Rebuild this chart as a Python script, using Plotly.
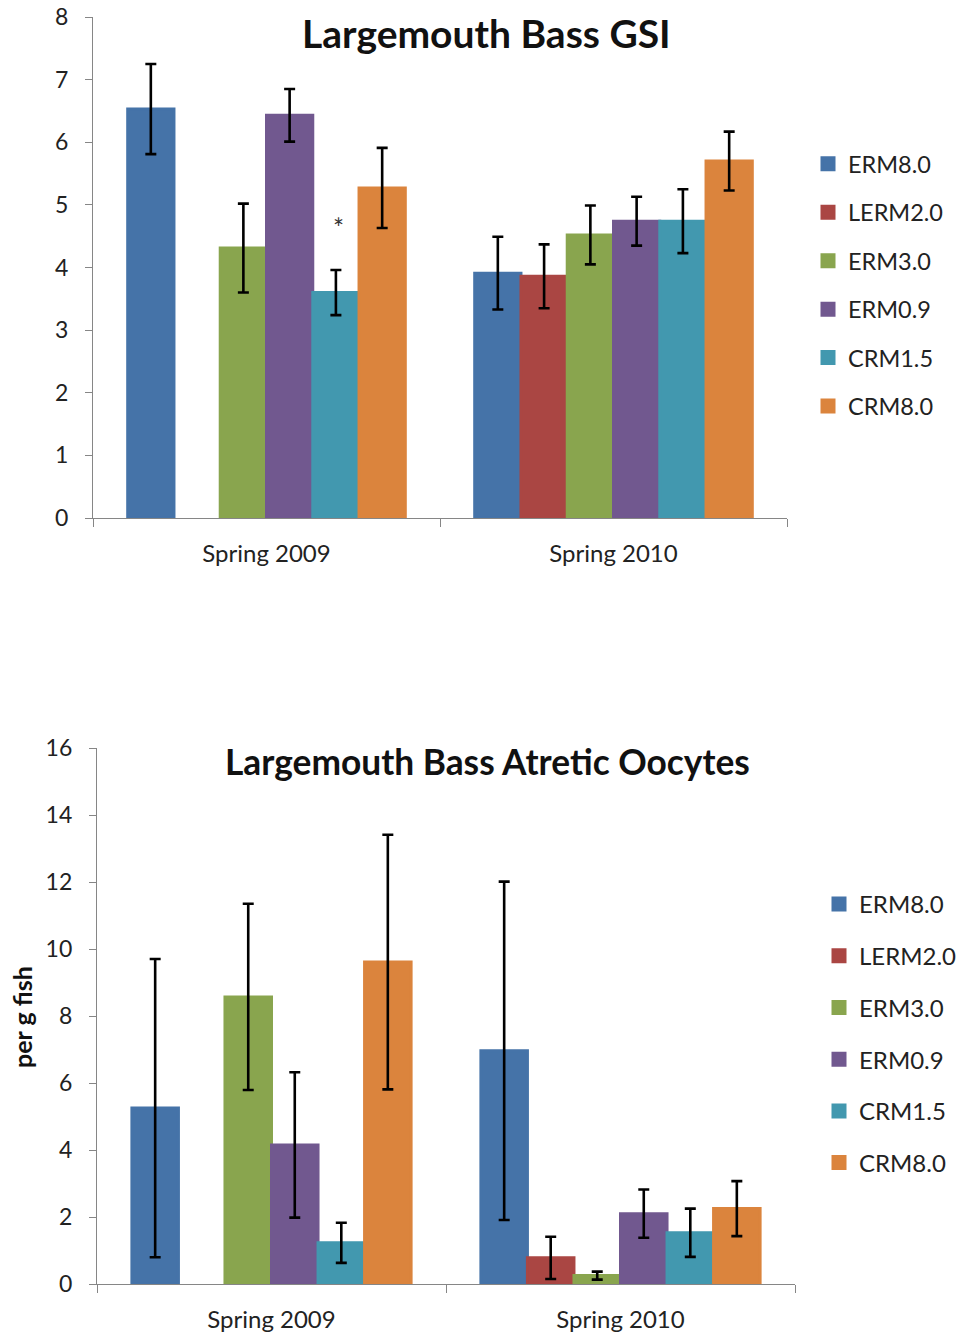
import plotly.graph_objects as go

seasons = ["Spring 2009", "Spring 2010"]
sites = ["ERM8.0", "LERM2.0", "ERM3.0", "ERM0.9", "CRM1.5", "CRM8.0"]
colors = ["#4573A8", "#AA4643", "#89A54E", "#71588F", "#4298AF", "#DB843D"]

# GSI (top)
gsi_vals = {
    "ERM8.0": [6.53, 3.91],
    "LERM2.0": [None, 3.86],
    "ERM3.0": [4.31, 4.52],
    "ERM0.9": [6.43, 4.74],
    "CRM1.5": [3.60, 4.74],
    "CRM8.0": [5.27, 5.70],
}
gsi_err = {
    "ERM8.0": [0.72, 0.58],
    "LERM2.0": [0, 0.51],
    "ERM3.0": [0.71, 0.47],
    "ERM0.9": [0.42, 0.39],
    "CRM1.5": [0.36, 0.51],
    "CRM8.0": [0.64, 0.47],
}
asterisk_y = 4.73

# Atretic oocytes (bottom)
atr_vals = {
    "ERM8.0": [5.25, 6.96],
    "LERM2.0": [None, 0.78],
    "ERM3.0": [8.57, 0.25],
    "ERM0.9": [4.15, 2.10],
    "CRM1.5": [1.23, 1.53],
    "CRM8.0": [9.61, 2.25],
}
atr_err = {
    "ERM8.0": [4.45, 5.05],
    "LERM2.0": [0, 0.63],
    "ERM3.0": [2.78, 0.12],
    "ERM0.9": [2.17, 0.72],
    "CRM1.5": [0.60, 0.72],
    "CRM8.0": [3.80, 0.82],
}

FONT = "Lato, 'Open Sans', sans-serif"
W, H = 959, 1336
fig = go.Figure()

for i, s in enumerate(sites):
    fig.add_trace(go.Bar(
        x=seasons, y=gsi_vals[s], name=s, marker_color=colors[i],
        marker_line=dict(color=colors[i], width=3),
        error_y=dict(type="data", array=gsi_err[s], color="black", thickness=2.6, width=5.5),
        xaxis="x", yaxis="y", legend="legend", legendgroup="a" + s,
    ))
for i, s in enumerate(sites):
    fig.add_trace(go.Bar(
        x=seasons, y=atr_vals[s], name=s, marker_color=colors[i],
        marker_line=dict(color=colors[i], width=3),
        error_y=dict(type="data", array=atr_err[s], color="black", thickness=2.6, width=5.5),
        xaxis="x2", yaxis="y2", legend="legend2", legendgroup="b" + s,
    ))

axis_common = dict(showline=True, linecolor="#868686", linewidth=1.3, showgrid=False,
                   zeroline=False, ticks="outside", tickcolor="#868686", automargin=False)

top_x = [93 / W, 787 / W]
top_y = [1 - 518 / H, 1 - 17 / H]
bot_x = [97 / W, 795 / W]
bot_y = [1 - 1284 / H, 1 - 748 / H]

xfont = dict(family=FONT, size=24, color="#222")
yfont = dict(family=FONT, size=23, color="#222")

fig.update_layout(
    width=W, height=H, margin=dict(l=0, r=0, t=0, b=0, autoexpand=False),
    paper_bgcolor="white", plot_bgcolor="white",
    barmode="group", bargap=0.2, bargroupgap=0,
    font=dict(family=FONT, color="#222"),
    xaxis=dict(domain=top_x, anchor="y", type="category", tickson="boundaries", ticklen=8,
               ticklabelstandoff=14, tickfont=xfont, **axis_common),
    yaxis=dict(domain=top_y, anchor="x", range=[0, 8], dtick=1, ticklen=7,
               ticklabelstandoff=12, tickfont=yfont, **axis_common),
    xaxis2=dict(domain=bot_x, anchor="y2", type="category", tickson="boundaries", ticklen=8,
                ticklabelstandoff=14, tickfont=xfont, **axis_common),
    yaxis2=dict(domain=bot_y, anchor="x2", range=[0, 16], dtick=2, ticklen=7,
                ticklabelstandoff=12, tickfont=yfont, **axis_common),
    legend=dict(x=808 / W, y=1 - 142 / H, xanchor="left", yanchor="top",
                font=dict(family=FONT, size=23.5, color="#222"), tracegroupgap=14.9,
                itemwidth=30, bgcolor="rgba(0,0,0,0)"),
    legend2=dict(x=819 / W, y=1 - 882 / H, xanchor="left", yanchor="top",
                 font=dict(family=FONT, size=24, color="#222"), tracegroupgap=17.5,
                 itemwidth=30, bgcolor="rgba(0,0,0,0)"),
    showlegend=True,
)

# Titles
fig.add_annotation(text="<b>Largemouth Bass GSI</b>", x=486 / W, y=1 - 33 / H, xref="paper",
                   yref="paper", showarrow=False, xanchor="center", yanchor="middle",
                   font=dict(family=FONT, size=39, color="#111"))
fig.add_annotation(text="<b>Largemouth Bass Atretic Oocytes</b>", x=487 / W, y=1 - 761 / H,
                   xref="paper", yref="paper", showarrow=False, xanchor="center", yanchor="middle",
                   font=dict(family=FONT, size=35.3, color="#111"))
# Y-axis title (bottom chart)
fig.add_annotation(text="<b>per g fish</b>", x=22 / W, y=1 - 1017 / H, xref="paper", yref="paper",
                   showarrow=False, textangle=-90, xanchor="center", yanchor="middle",
                   font=dict(family=FONT, size=25, color="#111"))

# Asterisk above CRM1.5, Spring 2009 (bar slot index 4 of 6 in group occupying 80% of category)
cat_px = (787 - 93) / 2
slot = cat_px * (1 - 0.2) / len(sites)
shift = (sites.index("CRM1.5") - (len(sites) - 1) / 2) * slot
fig.add_annotation(text="*", x=seasons[0], y=asterisk_y, xref="x", yref="y", xshift=shift + 3,
                   yshift=-6, showarrow=False, font=dict(family=FONT, size=26, color="#333"))

fig.write_html("out.html", post_script="document.body.style.margin='0';",
               config={"displayModeBar": False})
